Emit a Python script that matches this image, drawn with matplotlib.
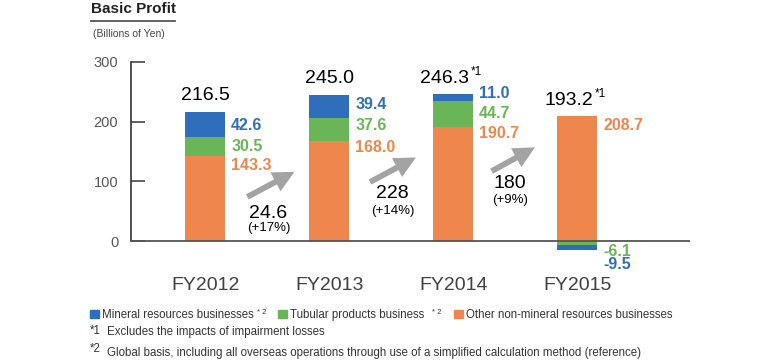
import matplotlib
matplotlib.use("Agg")
import matplotlib.pyplot as plt
from matplotlib.patches import Rectangle

plt.rcParams['font.family'] = ['Liberation Sans', 'DejaVu Sans']

# data (billions of yen)
years = ['FY2012', 'FY2013', 'FY2014', 'FY2015']
other = [143.3, 168.0, 190.7, 208.7]
tubular = [30.5, 37.6, 44.7, -6.1]
mineral = [42.6, 39.4, 11.0, -9.5]
totals = ['216.5', '245.0', '246.3', '193.2']
total_note = ['', '', '*1', '*1']
growth = ['24.6', '228', '180']
growth_pct = ['(+17%)', '(+14%)', '(+9%)']

c_min = '#2f6eba'
c_tub = '#6ab558'
c_oth = '#ef864e'
txt = '#333333'

fig = plt.figure(figsize=(7.8, 3.6), dpi=100)
ax = fig.add_axes([0.1676, 0.2806, 0.7170, 0.5472])

x = list(range(len(years)))
w = 0.32
ax.bar(x, other, w, color=c_oth, zorder=2)
tub_bottom = [o if t >= 0 else 0 for o, t in zip(other, tubular)]
ax.bar(x, tubular, w, bottom=tub_bottom, color=c_tub, zorder=2)
min_bottom = [o + t if m >= 0 else t for o, t, m in zip(other, tubular, mineral)]
ax.bar(x, mineral, w, bottom=min_bottom, color=c_min, zorder=2)

ax.set_xlim(-0.6, 3.91)
ax.set_ylim(-30, 300)
ax.axhline(0, color='#555555', lw=1.3, zorder=3)

for s in ['top', 'right', 'bottom']:
    ax.spines[s].set_visible(False)
ax.spines['left'].set_bounds(0, 300)
ax.spines['left'].set_color('#333333')
ax.spines['left'].set_linewidth(1.2)
ax.set_yticks([0, 100, 200, 300])
ax.tick_params(axis='y', direction='in', length=10, width=1.3, color='#555555',
               labelsize=10.5, labelcolor='#555555', pad=9)
ax.set_xticks(x)
ax.set_xticklabels(years, fontsize=14, color='#404040')
ax.tick_params(axis='x', length=0, pad=13)

# total labels above the bars
for i in x:
    top = max(other[i] + max(tubular[i], 0) + max(mineral[i], 0), other[i])
    if total_note[i]:
        ax.text(i - 0.07, top + 26, totals[i], ha='center', va='center', fontsize=14)
        ax.text(i + 0.14, top + 37, total_note[i], ha='left', va='center', fontsize=8.5)
    else:
        ax.text(i, top + 27, totals[i], ha='center', va='center', fontsize=14)

# segment labels to the right of each bar
seg_y = [[194, 159, 127], [228, 193, 157], [248, 214, 181], [-40, -17, 193]]
xr = w / 2 + 0.05
for i in x:
    vals = [mineral[i], tubular[i], other[i]]
    cols = [c_min, c_tub, c_oth]
    for v, c, yy in zip(vals, cols, seg_y[i]):
        ax.text(i + xr, yy, f'{v:.1f}', ha='left', va='center', fontsize=11.5,
                color=c, fontweight='bold')

# growth arrows between years
arrows = [((0.34, 74), (0.72, 116)), ((1.33, 99), (1.70, 140)), ((2.31, 117), (2.66, 157))]
for (a, b) in arrows:
    ax.annotate('', xy=b, xytext=a,
                arrowprops=dict(arrowstyle='simple,head_length=1.1,head_width=1.1,tail_width=0.3',
                                color='#a3a3a3', lw=0, mutation_scale=14, shrinkA=0, shrinkB=0))
gpos = [(0.51, 47, 22), (1.51, 80, 50), (2.46, 97, 69)]
for (gx, gy1, gy2), g, p in zip(gpos, growth, growth_pct):
    ax.text(gx, gy1, g, ha='center', va='center', fontsize=14)
    ax.text(gx, gy2, p, ha='center', va='center', fontsize=9.5)


def fx(px):
    return px / 780


def fy(py):
    return 1 - py / 360


# title
fig.text(fx(91), fy(9), 'Basic Profit', ha='left', va='center', fontsize=11,
         fontweight='bold', color='#222222')
fig.add_artist(plt.Line2D([fx(91), fx(175)], [fy(21), fy(21)], color='#555555', lw=1.3))
fig.text(fx(93), fy(34), '(Billions of Yen)', ha='left', va='center', fontsize=7.5,
         color='#444444')

# legend
leg = [(90, c_min, 'Mineral resources businesses', 257),
       (278, c_tub, 'Tubular products business', 432),
       (454, c_oth, 'Other non-mineral resources businesses', None)]
for px, c, label, sup in leg:
    fig.add_artist(Rectangle((fx(px), fy(318)), 9 / 780, 8 / 360, color=c,
                             transform=fig.transFigure))
    fig.text(fx(px + 12), fy(315), label, ha='left', va='center', fontsize=8.3, color=txt)
    if sup:
        fig.text(fx(sup), fy(312), '* 2', fontsize=5.5, color=txt, va='center')

# footnotes
fig.text(fx(90), fy(331), '*1', fontsize=8.3, color=txt, va='center')
fig.text(fx(107), fy(332), 'Excludes the impacts of impairment losses', fontsize=8.3,
         color=txt, va='center')
fig.text(fx(90), fy(349), '*2', fontsize=8.3, color=txt, va='center')
fig.text(fx(107), fy(353),
         'Global basis, including all overseas operations through use of a simplified calculation method (reference)',
         fontsize=8.3, color=txt, va='center')

fig.savefig('out.png', dpi=100)
